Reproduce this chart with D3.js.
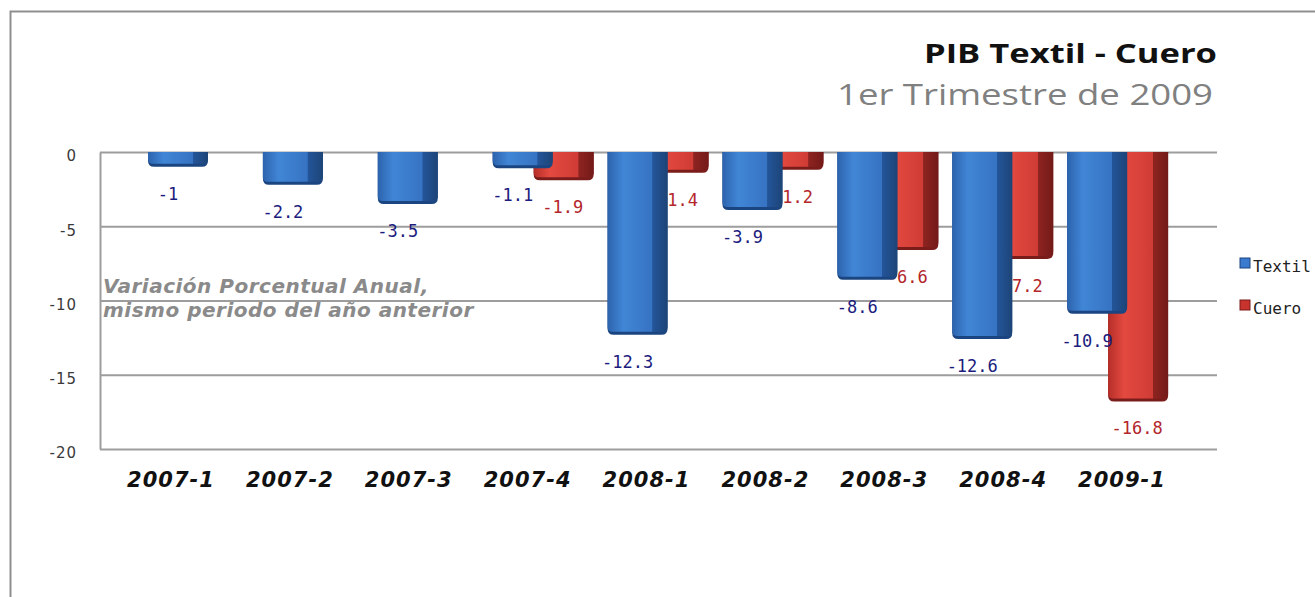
<!DOCTYPE html>
<html>
<head>
<meta charset="utf-8">
<script src="https://cdn.jsdelivr.net/npm/d3@7/dist/d3.min.js"></script>
<style>
  html, body { margin: 0; padding: 0; background: #ffffff; }
  svg { display: block; }
</style>
</head>
<body>
<svg id="chart" width="1315" height="597"></svg>
<script>
// ---- data ----
const categories = ["2007-1", "2007-2", "2007-3", "2007-4", "2008-1", "2008-2", "2008-3", "2008-4", "2009-1"];
const textil = [-1, -2.2, -3.5, -1.1, -12.3, -3.9, -8.6, -12.6, -10.9];
const cuero  = [null, null, null, -1.9, -1.4, -1.2, -6.6, -7.2, -16.8];
const yTicks = [0, -5, -10, -15, -20];
const seriesNames = ["Textil", "Cuero"];
const titleText = "PIB Textil - Cuero";
const subtitleText = "1er Trimestre de 2009";
const noteLines = ["Variación Porcentual Anual,", "mismo periodo del año anterior"];

// ---- layout ----
const W = 1315, H = 597;
const plot = { left: 100, right: 1217, top: 152, bottom: 449 };
const svg = d3.select("#chart");

const y = d3.scaleLinear().domain([-20, 0]).range([plot.bottom, plot.top]);
const x = d3.scaleBand().domain(categories).range([148, 1182]).paddingInner(0);
const xl = d3.scalePoint().domain(categories).range([171, 1122]);

const barW = 60, frontW = 45, redOffset = 41;

// gradients
const defs = svg.append("defs");
function hGrad(id, stops) {
  const g = defs.append("linearGradient").attr("id", id)
    .attr("x1", 0).attr("x2", 1).attr("y1", 0).attr("y2", 0);
  stops.forEach(s => g.append("stop").attr("offset", s[0]).attr("stop-color", s[1]));
}
hGrad("blueFront", [[0, "#2c63ad"], [0.35, "#4186d6"], [1, "#3673c2"]]);
hGrad("blueSide",  [[0, "#24559a"], [1, "#1c4477"]]);
hGrad("redFront",  [[0, "#b52e29"], [0.35, "#e3493f"], [1, "#cf3c35"]]);
hGrad("redSide",   [[0, "#8e2421"], [1, "#731a18"]]);
const palette = {
  Textil: { front: "url(#blueFront)", side: "url(#blueSide)", edge: "#1b4580", label: "#1c1c7e", swatch: "#3a7bcf" },
  Cuero:  { front: "url(#redFront)",  side: "url(#redSide)",  edge: "#7a1c1a", label: "#b3262a", swatch: "#c8332d" }
};

// outer frame
svg.append("rect").attr("width", W).attr("height", H).attr("fill", "#ffffff");
svg.append("path")
  .attr("d", `M10.5,${H} L10.5,11.5 L${W},11.5`)
  .attr("fill", "none").attr("stroke", "#8f8f8f").attr("stroke-width", 2);

// axis + gridlines
const yAxis = d3.axisLeft(y)
  .tickValues(yTicks)
  .tickSize(-(plot.right - plot.left))
  .tickSizeOuter(0)
  .tickPadding(23)
  .tickFormat(d => String(d));
const ag = svg.append("g").attr("transform", `translate(${plot.left},0)`).call(yAxis);
ag.selectAll(".tick line").attr("stroke", "#9d9d9d").attr("stroke-width", 2);
ag.select(".domain").attr("stroke", "#9d9d9d").attr("stroke-width", 2);
ag.selectAll(".tick text")
  .attr("y", 4)
  .attr("fill", "#3a3a3a")
  .style("font-family", "'DejaVu Sans', sans-serif")
  .style("font-size", "15px")
  .style("letter-spacing", "1px");

// note text
const note = svg.append("text")
  .attr("fill", "#8a8a8a")
  .style("font-family", "'DejaVu Sans', sans-serif")
  .style("font-weight", "bold")
  .style("font-style", "italic")
  .style("font-size", "20px")
  .style("letter-spacing", "0.5px");
noteLines.forEach((t, i) => {
  note.append("tspan").attr("x", 103).attr("y", 293 + i * 24).text(t);
});

// bars
function barPath(x0, w, h, rl, rr) {
  rl = Math.min(rl, h / 2); rr = Math.min(rr, h / 2);
  return `M${x0},${plot.top} L${x0 + w},${plot.top} L${x0 + w},${plot.top + h - rr}` +
    ` Q${x0 + w},${plot.top + h} ${x0 + w - rr},${plot.top + h}` +
    ` L${x0 + rl},${plot.top + h} Q${x0},${plot.top + h} ${x0},${plot.top + h - rl} Z`;
}
function drawBar(g, x0, v, pal) {
  const h = y(v) - y(0);
  g.append("path").attr("d", barPath(x0, barW, h, 6, 6)).attr("fill", pal.edge);
  const hi = Math.max(h - 3, 1);
  g.append("path").attr("d", barPath(x0, frontW, hi, 5, 0)).attr("fill", pal.front);
  g.append("path").attr("d", barPath(x0 + frontW, barW - frontW, hi, 0, 5)).attr("fill", pal.side);
}
function drawLabel(g, cx, v, pal) {
  g.append("text")
    .attr("x", cx).attr("y", y(v) + 33)
    .attr("text-anchor", "middle")
    .attr("fill", pal.label)
    .style("font-family", "'DejaVu Sans Mono', monospace")
    .style("font-size", "17px")
    .text(String(v));
}

categories.forEach((c, i) => {
  const g = svg.append("g");
  const x0 = x(c);
  if (cuero[i] !== null) {
    drawBar(g, x0 + redOffset, cuero[i], palette.Cuero);
    drawLabel(g, x0 + redOffset + 29, cuero[i], palette.Cuero);
  }
  drawBar(g, x0, textil[i], palette.Textil);
  drawLabel(g, x0 + 20, textil[i], palette.Textil);
});

// category labels
svg.append("g").selectAll("text").data(categories).join("text")
  .attr("x", d => xl(d)).attr("y", 487)
  .attr("text-anchor", "middle")
  .attr("fill", "#111111")
  .style("font-family", "'DejaVu Sans', sans-serif")
  .style("font-weight", "bold")
  .style("font-style", "italic")
  .style("font-size", "21px")
  .style("letter-spacing", "1px")
  .text(d => d);

// titles
svg.append("text")
  .attr("x", 924).attr("y", 63)
  .attr("textLength", 293).attr("lengthAdjust", "spacingAndGlyphs")
  .attr("fill", "#111111")
  .style("font-family", "'Open Sans', sans-serif")
  .style("font-weight", "bold")
  .style("font-size", "27px")
  .text(titleText);
svg.append("text")
  .attr("x", 837).attr("y", 105)
  .attr("textLength", 376).attr("lengthAdjust", "spacingAndGlyphs")
  .attr("fill", "#808080")
  .style("font-family", "'Open Sans', sans-serif")
  .style("font-size", "30px")
  .text(subtitleText);

// legend
const lg = svg.append("g");
seriesNames.forEach((s, i) => {
  const ly = 258 + i * 42;
  lg.append("rect").attr("x", 1240).attr("y", ly).attr("width", 10).attr("height", 10)
    .attr("fill", palette[s].swatch).attr("stroke", palette[s].edge).attr("stroke-width", 1);
  lg.append("text").attr("x", 1253).attr("y", ly + 14)
    .attr("fill", "#222222")
    .style("font-family", "'DejaVu Sans Mono', monospace")
    .style("font-size", "16px")
    .text(s);
});
</script>
</body>
</html>
